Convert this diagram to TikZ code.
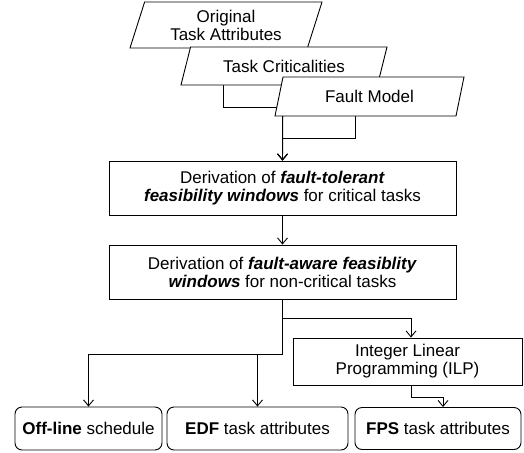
\documentclass[tikz,border=0pt]{standalone}
\usepackage{fontspec}
\setmainfont{Liberation Sans}
\usetikzlibrary{shapes.geometric}
\usetikzlibrary{arrows.meta}
\usetikzlibrary{backgrounds}
\tikzset{>={Straight Barb[length=6pt,width=10pt]}}
\tikzset{lbl/.style={align=center,font=\fontsize{17}{18}\selectfont}}
\tikzset{inpt/.style={lbl,draw,fill=white,trapezium,trapezium stretches body=true,inner sep=0pt,line width=0.9pt}}
\tikzset{proc/.style={lbl,draw,fill=white,rectangle,inner sep=0pt,line width=0.9pt}}
\tikzset{outp/.style={proc,rounded corners=7pt}}
\tikzset{con/.style={line width=0.9pt}}
\newcommand{\bi}[1]{\textbf{\textit{#1}}}

\begin{document}
\begin{tikzpicture}[x=1pt,y=-1pt]
        \useasboundingbox (0,0) rectangle (524,452);

        \node[inpt, trapezium left angle=64.4, trapezium right angle=115.6, minimum width=192, minimum height=46] (orig) at (226,25) {Original\\Task Attributes};
        \node[inpt, trapezium left angle=52.6, trapezium right angle=127.4, minimum width=206, minimum height=38] (crit) at (284,66) {Task Criticalities};
        \node[inpt, trapezium left angle=57.3, trapezium right angle=122.7, minimum width=189, minimum height=39] (fault) at (369.5,96.5) {Fault Model};

        \node[proc, minimum width=347, minimum height=54] (ftw) at (282.5,188) {Derivation of \bi{fault-tolerant}\\\bi{feasibility windows} for critical tasks};
        \node[proc, minimum width=347, minimum height=54] (faw) at (282.5,272) {Derivation of \bi{fault-aware feasiblity}\\\bi{windows} for non-critical tasks};

        \node[proc, minimum width=229, minimum height=47] (ilp) at (407.5,361.5) {Integer Linear\\Programming (ILP)};

        \node[outp, minimum width=147, minimum height=43] (sched) at (88.5,428.5) {\textbf{Off-line} schedule};
        \node[outp, minimum width=181, minimum height=43] (edf) at (257.5,428.5) {\textbf{EDF} task attributes};
        \node[outp, minimum width=166, minimum height=42] (fps) at (438,428.5) {\textbf{FPS} task attributes};

        \begin{scope}[on background layer]
        \draw[->,con] ([xshift=-3pt]orig.south) -- ++(0,59) -| (ftw.north);
        \draw[->,con] ([xshift=-1pt]crit.south) -- (ftw.north);
        \draw[->,con] ([xshift=-14.5pt]fault.south) -- ++(0,22) -| (ftw.north);
        \end{scope}

        \draw[->,con] (ftw) -- (faw);

        \draw[->,con] (faw.south) -- ++(0,55) -| (sched.north);
        \draw[->,con] (faw.south) -- ++(0,55) -| (edf.north);
        \draw[->,con] (faw.south) -- ++(0,19) -| ([xshift=3.5pt]ilp.north);
        \draw[->,con] ([xshift=3.5pt]ilp.south) -- ++(0,12) -| ([xshift=5pt]fps.north);
    \end{tikzpicture}
\end{document}
